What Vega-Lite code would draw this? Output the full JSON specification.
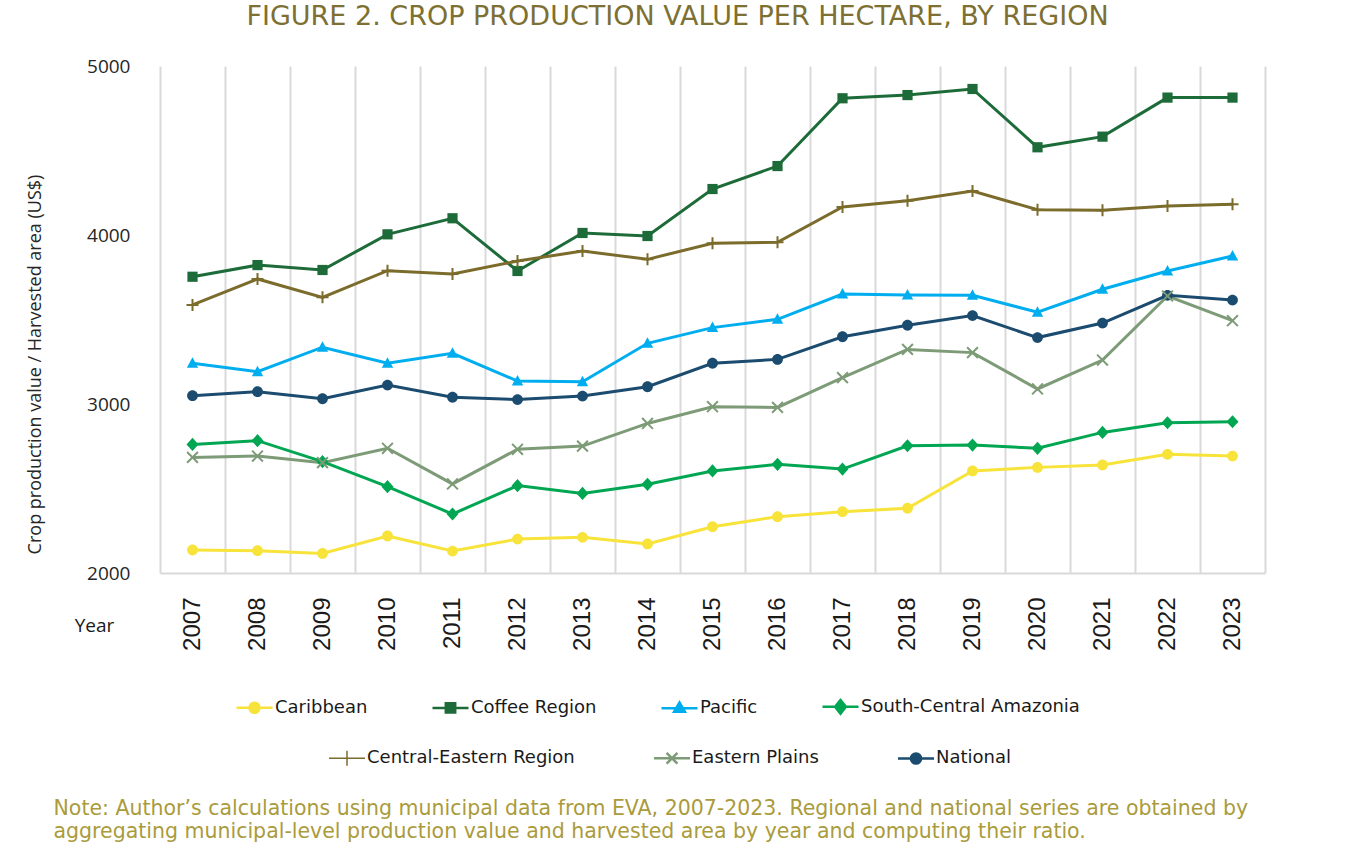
{
  "$schema": "https://vega.github.io/schema/vega-lite/v6.json",
  "width": 1105,
  "height": 507,
  "autosize": {"type": "none"},
  "padding": {"left": 160, "top": 66, "right": 86, "bottom": 288},
  "background": "white",
  "title": {
    "text": "FIGURE 2. CROP PRODUCTION VALUE PER HECTARE, BY REGION",
    "anchor": "middle",
    "frame": "group",
    "dx": -35,
    "dy": 35,
    "baseline": "alphabetic",
    "offset": 40,
    "font": "DejaVu Sans",
    "fontSize": 27,
    "fontWeight": "normal",
    "color": "#7D7032"
  },
  "config": {"view": {"stroke": null}, "point": {"size": 144}},
  "data": {
    "values": [
      {"Year": 2007, "Series": "Caribbean", "Value": 2136},
      {"Year": 2008, "Series": "Caribbean", "Value": 2132},
      {"Year": 2009, "Series": "Caribbean", "Value": 2116},
      {"Year": 2010, "Series": "Caribbean", "Value": 2219},
      {"Year": 2011, "Series": "Caribbean", "Value": 2130},
      {"Year": 2012, "Series": "Caribbean", "Value": 2201},
      {"Year": 2013, "Series": "Caribbean", "Value": 2211},
      {"Year": 2014, "Series": "Caribbean", "Value": 2172},
      {"Year": 2015, "Series": "Caribbean", "Value": 2274},
      {"Year": 2016, "Series": "Caribbean", "Value": 2333},
      {"Year": 2017, "Series": "Caribbean", "Value": 2363},
      {"Year": 2018, "Series": "Caribbean", "Value": 2383},
      {"Year": 2019, "Series": "Caribbean", "Value": 2604},
      {"Year": 2020, "Series": "Caribbean", "Value": 2625},
      {"Year": 2021, "Series": "Caribbean", "Value": 2639},
      {"Year": 2022, "Series": "Caribbean", "Value": 2702},
      {"Year": 2023, "Series": "Caribbean", "Value": 2692},
      {"Year": 2007, "Series": "Coffee Region", "Value": 3753},
      {"Year": 2008, "Series": "Coffee Region", "Value": 3822},
      {"Year": 2009, "Series": "Coffee Region", "Value": 3793},
      {"Year": 2010, "Series": "Coffee Region", "Value": 4004},
      {"Year": 2011, "Series": "Coffee Region", "Value": 4099},
      {"Year": 2012, "Series": "Coffee Region", "Value": 3787},
      {"Year": 2013, "Series": "Coffee Region", "Value": 4012},
      {"Year": 2014, "Series": "Coffee Region", "Value": 3994},
      {"Year": 2015, "Series": "Coffee Region", "Value": 4272},
      {"Year": 2016, "Series": "Coffee Region", "Value": 4408},
      {"Year": 2017, "Series": "Coffee Region", "Value": 4809},
      {"Year": 2018, "Series": "Coffee Region", "Value": 4828},
      {"Year": 2019, "Series": "Coffee Region", "Value": 4864},
      {"Year": 2020, "Series": "Coffee Region", "Value": 4519},
      {"Year": 2021, "Series": "Coffee Region", "Value": 4582},
      {"Year": 2022, "Series": "Coffee Region", "Value": 4813},
      {"Year": 2023, "Series": "Coffee Region", "Value": 4813},
      {"Year": 2007, "Series": "Pacific", "Value": 3241},
      {"Year": 2008, "Series": "Pacific", "Value": 3191},
      {"Year": 2009, "Series": "Pacific", "Value": 3336},
      {"Year": 2010, "Series": "Pacific", "Value": 3241},
      {"Year": 2011, "Series": "Pacific", "Value": 3300},
      {"Year": 2012, "Series": "Pacific", "Value": 3136},
      {"Year": 2013, "Series": "Pacific", "Value": 3132},
      {"Year": 2014, "Series": "Pacific", "Value": 3359},
      {"Year": 2015, "Series": "Pacific", "Value": 3452},
      {"Year": 2016, "Series": "Pacific", "Value": 3501},
      {"Year": 2017, "Series": "Pacific", "Value": 3651},
      {"Year": 2018, "Series": "Pacific", "Value": 3645},
      {"Year": 2019, "Series": "Pacific", "Value": 3643},
      {"Year": 2020, "Series": "Pacific", "Value": 3543},
      {"Year": 2021, "Series": "Pacific", "Value": 3679},
      {"Year": 2022, "Series": "Pacific", "Value": 3787},
      {"Year": 2023, "Series": "Pacific", "Value": 3876},
      {"Year": 2007, "Series": "South-Central Amazonia", "Value": 2761},
      {"Year": 2008, "Series": "South-Central Amazonia", "Value": 2783},
      {"Year": 2009, "Series": "South-Central Amazonia", "Value": 2659},
      {"Year": 2010, "Series": "South-Central Amazonia", "Value": 2511},
      {"Year": 2011, "Series": "South-Central Amazonia", "Value": 2349},
      {"Year": 2012, "Series": "South-Central Amazonia", "Value": 2517},
      {"Year": 2013, "Series": "South-Central Amazonia", "Value": 2471},
      {"Year": 2014, "Series": "South-Central Amazonia", "Value": 2525},
      {"Year": 2015, "Series": "South-Central Amazonia", "Value": 2604},
      {"Year": 2016, "Series": "South-Central Amazonia", "Value": 2643},
      {"Year": 2017, "Series": "South-Central Amazonia", "Value": 2615},
      {"Year": 2018, "Series": "South-Central Amazonia", "Value": 2753},
      {"Year": 2019, "Series": "South-Central Amazonia", "Value": 2757},
      {"Year": 2020, "Series": "South-Central Amazonia", "Value": 2738},
      {"Year": 2021, "Series": "South-Central Amazonia", "Value": 2832},
      {"Year": 2022, "Series": "South-Central Amazonia", "Value": 2889},
      {"Year": 2023, "Series": "South-Central Amazonia", "Value": 2895},
      {"Year": 2007, "Series": "Central-Eastern Region", "Value": 3586},
      {"Year": 2008, "Series": "Central-Eastern Region", "Value": 3740},
      {"Year": 2009, "Series": "Central-Eastern Region", "Value": 3631},
      {"Year": 2010, "Series": "Central-Eastern Region", "Value": 3789},
      {"Year": 2011, "Series": "Central-Eastern Region", "Value": 3769},
      {"Year": 2012, "Series": "Central-Eastern Region", "Value": 3846},
      {"Year": 2013, "Series": "Central-Eastern Region", "Value": 3905},
      {"Year": 2014, "Series": "Central-Eastern Region", "Value": 3856},
      {"Year": 2015, "Series": "Central-Eastern Region", "Value": 3951},
      {"Year": 2016, "Series": "Central-Eastern Region", "Value": 3957},
      {"Year": 2017, "Series": "Central-Eastern Region", "Value": 4166},
      {"Year": 2018, "Series": "Central-Eastern Region", "Value": 4203},
      {"Year": 2019, "Series": "Central-Eastern Region", "Value": 4260},
      {"Year": 2020, "Series": "Central-Eastern Region", "Value": 4150},
      {"Year": 2021, "Series": "Central-Eastern Region", "Value": 4146},
      {"Year": 2022, "Series": "Central-Eastern Region", "Value": 4172},
      {"Year": 2023, "Series": "Central-Eastern Region", "Value": 4182},
      {"Year": 2007, "Series": "Eastern Plains", "Value": 2684},
      {"Year": 2008, "Series": "Eastern Plains", "Value": 2692},
      {"Year": 2009, "Series": "Eastern Plains", "Value": 2653},
      {"Year": 2010, "Series": "Eastern Plains", "Value": 2738},
      {"Year": 2011, "Series": "Eastern Plains", "Value": 2527},
      {"Year": 2012, "Series": "Eastern Plains", "Value": 2732},
      {"Year": 2013, "Series": "Eastern Plains", "Value": 2751},
      {"Year": 2014, "Series": "Eastern Plains", "Value": 2885},
      {"Year": 2015, "Series": "Eastern Plains", "Value": 2984},
      {"Year": 2016, "Series": "Eastern Plains", "Value": 2980},
      {"Year": 2017, "Series": "Eastern Plains", "Value": 3156},
      {"Year": 2018, "Series": "Eastern Plains", "Value": 3323},
      {"Year": 2019, "Series": "Eastern Plains", "Value": 3304},
      {"Year": 2020, "Series": "Eastern Plains", "Value": 3089},
      {"Year": 2021, "Series": "Eastern Plains", "Value": 3260},
      {"Year": 2022, "Series": "Eastern Plains", "Value": 3639},
      {"Year": 2023, "Series": "Eastern Plains", "Value": 3493},
      {"Year": 2007, "Series": "National", "Value": 3049},
      {"Year": 2008, "Series": "National", "Value": 3073},
      {"Year": 2009, "Series": "National", "Value": 3031},
      {"Year": 2010, "Series": "National", "Value": 3112},
      {"Year": 2011, "Series": "National", "Value": 3040},
      {"Year": 2012, "Series": "National", "Value": 3026},
      {"Year": 2013, "Series": "National", "Value": 3047},
      {"Year": 2014, "Series": "National", "Value": 3102},
      {"Year": 2015, "Series": "National", "Value": 3241},
      {"Year": 2016, "Series": "National", "Value": 3264},
      {"Year": 2017, "Series": "National", "Value": 3398},
      {"Year": 2018, "Series": "National", "Value": 3466},
      {"Year": 2019, "Series": "National", "Value": 3523},
      {"Year": 2020, "Series": "National", "Value": 3393},
      {"Year": 2021, "Series": "National", "Value": 3479},
      {"Year": 2022, "Series": "National", "Value": 3643},
      {"Year": 2023, "Series": "National", "Value": 3615}
    ]
  },
  "resolve": {"axis": {"x": "independent"}},
  "layer": [
    {
      "transform": [{"filter": {"field": "Series", "oneOf": ["Caribbean", "Coffee Region", "Pacific", "South-Central Amazonia"]}}],
      "mark": {"type": "line", "strokeWidth": 3},
      "encoding": {
        "x": {
          "field": "Year", "type": "ordinal", "bandPosition": 0.5,
          "scale": {"type": "band", "paddingInner": 0, "paddingOuter": 0},
          "axis": {
            "orient": "bottom", "tickBand": "extent",
            "grid": true, "gridColor": "#D9D9D9", "gridWidth": 2,
            "ticks": false, "tickSize": 0,
            "domain": true, "domainColor": "#D9D9D9", "domainWidth": 2,
            "labelAngle": -90, "labelAlign": "right", "labelBaseline": "middle",
            "labelPadding": 24, "labelFont": "Liberation Sans", "labelFontSize": 24, "labelColor": "#1A1A1A",
            "title": "Year", "titleX": -66, "titleY": 52, "titleAlign": "center", "titleBaseline": "middle",
            "titleFont": "Open Sans", "titleFontSize": 19, "titleFontWeight": "normal", "titleColor": "#1A1A1A"
          }
        },
        "y": {
          "field": "Value", "type": "quantitative",
          "scale": {"domain": [2000, 5000], "nice": false, "zero": false},
          "axis": {
            "values": [2000, 3000, 4000, 5000], "format": "d", "grid": false, "domain": false, "ticks": false, "tickSize": 0,
            "labelPadding": 30, "labelFont": "Open Sans", "labelFontSize": 19, "labelColor": "#262626",
            "title": "Crop production value / Harvested area (US$)",
            "titleFont": "Open Sans", "titleFontSize": 18, "titleFontWeight": "normal", "titleColor": "#262626",
            "titleX": -125, "titleY": 298, "titleAngle": -90, "titleAlign": "center", "titleBaseline": "middle"
          }
        },
        "color": {
          "field": "Series", "type": "nominal",
          "scale": {"domain": ["Caribbean", "Coffee Region", "Pacific", "South-Central Amazonia"], "range": ["#F7E33A", "#1D6B38", "#00AEEF", "#00A651"]},
          "legend": {
            "orient": "none", "legendX": 75, "legendY": 621, "direction": "horizontal", "title": null,
            "padding": 0, "symbolSize": 1296, "symbolStrokeWidth": 2.5,
            "labelFont": "DejaVu Sans", "labelFontSize": 18, "labelColor": "#1A1A1A", "labelOffset": 1, "labelLimit": 400,
            "columnPadding": 59,
            "encode": {
              "symbols": {
                "update": {
                  "shape": {"signal": "datum.value == 'Caribbean' ? 'M-1,0H1M-0.28,0A0.28,0.28 0 1,1 0.28,0A0.28,0.28 0 1,1 -0.28,0Z' : datum.value == 'Coffee Region' ? 'M-1,0H1M-0.26,-0.26H0.26V0.26H-0.26Z' : datum.value == 'Pacific' ? 'M-1,0H1M0,-0.32L0.3,0.2H-0.3Z' : 'M-1,0H1M0,-0.38L0.3,0L0,0.38L-0.3,0Z'"},
                  "size": {"value": 1296},
                  "fill": {"signal": "scale('color', datum.value)"},
                  "stroke": {"signal": "scale('color', datum.value)"},
                  "strokeWidth": {"value": 2.5},
                  "opacity": {"value": 1}
                }
              }
            }
          }
        }
      }
    },
    {
      "transform": [{"filter": {"field": "Series", "oneOf": ["Central-Eastern Region", "Eastern Plains", "National"]}}],
      "mark": {"type": "line", "strokeWidth": 3},
      "encoding": {
        "x": {
          "field": "Year", "type": "ordinal", "bandPosition": 0.5,
          "scale": {"type": "band", "paddingInner": 0, "paddingOuter": 0},
          "axis": {
            "orient": "bottom", "labels": false, "ticks": false, "tickSize": 0, "grid": false, "domain": false,
            "title": ["Note: Author’s calculations using municipal data from EVA, 2007-2023. Regional and national series are obtained by", "aggregating municipal-level production value and harvested area by year and computing their ratio."],
            "titleX": -107, "titleY": 241, "titleAlign": "left", "titleBaseline": "alphabetic",
            "titleFont": "DejaVu Sans", "titleFontSize": 20.5, "titleFontWeight": "normal", "titleColor": "#AA9B3C",
            "titleLineHeight": 23, "titleLimit": 1400
          }
        },
        "y": {"field": "Value", "type": "quantitative", "scale": {"domain": [2000, 5000], "nice": false, "zero": false}},
        "stroke": {
          "field": "Series", "type": "nominal",
          "scale": {"domain": ["Central-Eastern Region", "Eastern Plains", "National"], "range": ["#7B6C2C", "#7D9B77", "#1B4B6E"]},
          "legend": {
            "orient": "none", "legendX": 178, "legendY": 683, "direction": "horizontal", "title": null,
            "padding": 0, "symbolSize": 1296, "symbolStrokeWidth": 2.5,
            "labelFont": "DejaVu Sans", "labelFontSize": 18, "labelColor": "#1A1A1A", "labelOffset": 11, "labelLimit": 400,
            "columnPadding": 74,
            "encode": {
              "symbols": {
                "update": {
                  "shape": {"signal": "datum.value == 'Central-Eastern Region' ? 'M-1,0H1M0,-0.42V0.42' : datum.value == 'Eastern Plains' ? 'M-1,0H1M-0.3,-0.3L0.3,0.3M-0.3,0.3L0.3,-0.3' : 'M-1,0H1M-0.28,0A0.28,0.28 0 1,1 0.28,0A0.28,0.28 0 1,1 -0.28,0Z'"},
                  "size": {"value": 1296},
                  "fill": {"signal": "datum.value == 'National' ? scale('stroke', datum.value) : 'transparent'"},
                  "stroke": {"signal": "datum.value == 'Central-Eastern Region' ? '#CDC392' : scale('stroke', datum.value)"},
                  "strokeWidth": {"signal": "datum.value == 'Central-Eastern Region' ? 1.5 : 2.5"},
                  "opacity": {"value": 1}
                }
              }
            }
          }
        }
      }
    },
    {
      "transform": [{"filter": {"field": "Series", "oneOf": ["Caribbean", "Coffee Region", "Pacific", "South-Central Amazonia"]}}],
      "mark": {"type": "point", "filled": true, "opacity": 1},
      "encoding": {
        "x": {"field": "Year", "type": "ordinal", "bandPosition": 0.5, "scale": {"type": "band", "paddingInner": 0, "paddingOuter": 0}, "axis": null},
        "y": {"field": "Value", "type": "quantitative", "scale": {"domain": [2000, 5000], "nice": false, "zero": false}},
        "color": {"field": "Series", "type": "nominal"},
        "shape": {
          "field": "Series", "type": "nominal", "legend": null,
          "scale": {
            "domain": ["Caribbean", "Coffee Region", "Pacific", "South-Central Amazonia", "Central-Eastern Region", "Eastern Plains"],
            "range": [
              "M-0.9,0A0.9,0.9 0 1,1 0.9,0A0.9,0.9 0 1,1 -0.9,0Z",
              "M-0.85,-0.85H0.85V0.85H-0.85Z",
              "M0,-1L0.95,0.75H-0.95Z",
              "M0,-1.1L1,0L0,1.1L-1,0Z",
              "M-1,0H1M0,-1V1",
              "M-0.9,-0.9L0.9,0.9M-0.9,0.9L0.9,-0.9"
            ]
          }
        }
      }
    },
    {
      "transform": [{"filter": {"field": "Series", "equal": "National"}}],
      "mark": {"type": "point", "filled": true, "opacity": 1, "color": "#1B4B6E", "shape": "M-0.9,0A0.9,0.9 0 1,1 0.9,0A0.9,0.9 0 1,1 -0.9,0Z"},
      "encoding": {
        "x": {"field": "Year", "type": "ordinal", "bandPosition": 0.5, "scale": {"type": "band", "paddingInner": 0, "paddingOuter": 0}, "axis": null},
        "y": {"field": "Value", "type": "quantitative", "scale": {"domain": [2000, 5000], "nice": false, "zero": false}}
      }
    },
    {
      "transform": [{"filter": {"field": "Series", "oneOf": ["Central-Eastern Region", "Eastern Plains"]}}],
      "mark": {"type": "point", "filled": false, "opacity": 1, "strokeWidth": 2},
      "encoding": {
        "x": {"field": "Year", "type": "ordinal", "bandPosition": 0.5, "scale": {"type": "band", "paddingInner": 0, "paddingOuter": 0}, "axis": null},
        "y": {"field": "Value", "type": "quantitative", "scale": {"domain": [2000, 5000], "nice": false, "zero": false}},
        "stroke": {"field": "Series", "type": "nominal"},
        "shape": {"field": "Series", "type": "nominal", "legend": null}
      }
    }
  ]
}
